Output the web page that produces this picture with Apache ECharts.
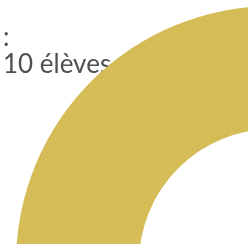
<!DOCTYPE html>
<html>
<head>
<meta charset="utf-8">
<script src="https://cdn.jsdelivr.net/npm/echarts@6/dist/echarts.min.js"></script>
<style>
html,body{margin:0;padding:0;background:#fff;}
#chart{width:248px;height:244px;}
</style>
</head>
<body>
<div id="chart"></div>
<script>
const categories = ['Garçons'];
const values = [10];
const unit = 'élèves';
const topLabel = 'Nombre total';

const chart = echarts.init(document.getElementById('chart'), null, {renderer: 'canvas'});
const option = {
  animation: false,
  backgroundColor: '#ffffff',
  series: [{
    type: 'pie',
    center: [273, 263],
    radius: [134, 257],
    silent: true,
    label: {show: false},
    labelLine: {show: false},
    itemStyle: {color: '#D5BC56', borderWidth: 0},
    emphasis: {disabled: true},
    data: categories.map((c, i) => ({name: c, value: values[i]}))
  }],
  graphic: [
    {
      type: 'text', left: 5, top: -23, silent: true,
      style: {text: topLabel, font: '24px Lato', fill: '#505050'}
    },
    {
      type: 'text', left: 3, top: 24, silent: true,
      style: {text: ':\n' + values[0] + ' ' + unit, font: '26px Lato', lineHeight: 27, fill: '#505050'}
    }
  ]
};
chart.setOption(option);
</script>
</body>
</html>
